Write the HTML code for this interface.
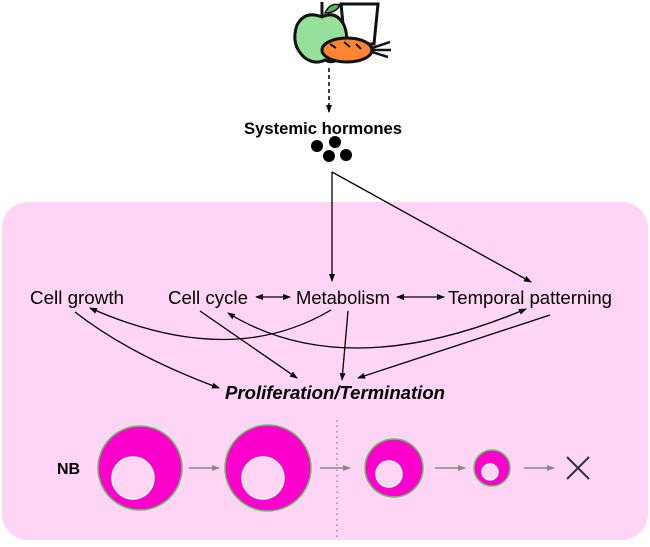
<!DOCTYPE html>
<html><head><meta charset="utf-8"><style>
html,body{margin:0;padding:0;background:#fff;}
svg text{font-family:"Liberation Sans",Arial,sans-serif;}
</style></head><body>
<svg width="650" height="542" viewBox="0 0 650 542" xmlns="http://www.w3.org/2000/svg">
<defs>
<marker id="a" markerWidth="8" markerHeight="8" refX="7" refY="4" orient="auto" markerUnits="userSpaceOnUse"><path d="M0,1 L8,4 L0,7 Z" fill="#000"/></marker>
<marker id="s" markerWidth="8" markerHeight="8" refX="1" refY="4" orient="auto" markerUnits="userSpaceOnUse"><path d="M8,1 L0,4 L8,7 Z" fill="#000"/></marker>
<marker id="g" markerWidth="8" markerHeight="8" refX="7" refY="4" orient="auto" markerUnits="userSpaceOnUse"><path d="M0,1 L8,4 L0,7 Z" fill="#888"/></marker>
</defs>
<rect x="2" y="202" width="646" height="338" rx="26" fill="#ffd5f5"/>
<!-- food icon -->
<path d="M341,4 L378,4 L374,44 L345,44 Z" fill="#fff" stroke="#111" stroke-width="3"/>
<path d="M322,2 L322,16" stroke="#111" stroke-width="3"/>
<path d="M325,13 Q330,2 340,5 Q336,13 325,13Z" fill="#5cb85c" stroke="#111" stroke-width="1.5"/>
<path d="M322,17 Q305,10 297,25 Q290,45 305,58 Q315,65 325,60 Q335,65 343,55 Q350,40 344,25 Q336,10 322,17Z" fill="#95e09a" stroke="#111" stroke-width="3"/>
<ellipse cx="347" cy="50" rx="25" ry="12" fill="#ff8533" stroke="#111" stroke-width="3"/>
<path d="M372,48 L390,42 M372,50 L391,50 M372,52 L388,57" stroke="#111" stroke-width="2.5"/>
<path d="M330,44 L336,48 M344,42 L350,47 M356,44 L361,49" stroke="#111" stroke-width="2"/>
<line x1="329" y1="68" x2="329" y2="112" stroke="#000" stroke-width="1.5" stroke-dasharray="4,3" marker-end="url(#a)"/>
<text x="244" y="134" font-size="16.5" font-weight="bold" textLength="158" lengthAdjust="spacingAndGlyphs">Systemic hormones</text>
<circle cx="317" cy="146" r="6" fill="#000"/><circle cx="335" cy="142" r="6" fill="#000"/>
<circle cx="329" cy="156" r="6" fill="#000"/><circle cx="346" cy="155" r="6" fill="#000"/>
<g stroke="#000" stroke-width="1.3" fill="none">
<line x1="332" y1="172" x2="332" y2="281" marker-end="url(#a)"/>
<line x1="332" y1="172" x2="531" y2="282" marker-end="url(#a)"/>
<line x1="256" y1="297" x2="290" y2="297" marker-start="url(#s)" marker-end="url(#a)"/>
<line x1="397" y1="297" x2="444" y2="297" marker-start="url(#s)" marker-end="url(#a)"/>
<path d="M75,312 Q130,355 219,388" marker-end="url(#a)"/>
<path d="M200,311 L297,378" marker-end="url(#a)"/>
<path d="M348,311 L342,380" marker-end="url(#a)"/>
<path d="M550,315 L358,378" marker-end="url(#a)"/>
<path d="M331,310 Q230,370 90,308" marker-end="url(#a)"/>
<path d="M228,313 Q345,385 526,309" marker-start="url(#s)" marker-end="url(#a)"/>
</g>
<g font-size="18" lengthAdjust="spacingAndGlyphs">
<text x="30" y="304" textLength="94" lengthAdjust="spacingAndGlyphs">Cell growth</text>
<text x="168" y="304" textLength="80" lengthAdjust="spacingAndGlyphs">Cell cycle</text>
<text x="296" y="304" textLength="94" lengthAdjust="spacingAndGlyphs">Metabolism</text>
<text x="448" y="304" textLength="164" lengthAdjust="spacingAndGlyphs">Temporal patterning</text>
</g>
<text x="225" y="399" font-size="18" font-weight="bold" font-style="italic" textLength="220" lengthAdjust="spacingAndGlyphs">Proliferation/Termination</text>
<text x="57" y="474" font-size="16" font-weight="bold">NB</text>
<g stroke="#5cc85c" stroke-width="1.5">
<circle cx="140" cy="468" r="42" fill="#ff00cc"/>
<circle cx="133" cy="478" r="21" fill="#ffd5f5" stroke="#fff"/>
<circle cx="268" cy="468" r="43" fill="#ff00cc"/>
<circle cx="263" cy="478" r="21" fill="#ffd5f5" stroke="#fff"/>
<circle cx="394" cy="468" r="29" fill="#ff00cc"/>
<circle cx="389" cy="474" r="13" fill="#ffd5f5" stroke="#fff"/>
<circle cx="492" cy="468" r="18" fill="#ff00cc"/>
<circle cx="490" cy="472" r="8" fill="#ffd5f5" stroke="#fff"/>
</g>
<g stroke="#888" stroke-width="1.5">
<line x1="189" y1="468" x2="219" y2="468" marker-end="url(#g)"/>
<line x1="320" y1="468" x2="350" y2="468" marker-end="url(#g)"/>
<line x1="435" y1="468" x2="465" y2="468" marker-end="url(#g)"/>
<line x1="524" y1="468" x2="554" y2="468" marker-end="url(#g)"/>
</g>
<line x1="337" y1="420" x2="337" y2="538" stroke="#888" stroke-width="1.3" stroke-dasharray="1.5,4"/>
<path d="M567,457 L589,479 M589,457 L567,479" stroke="#333" stroke-width="2"/>
</svg>
</body></html>
